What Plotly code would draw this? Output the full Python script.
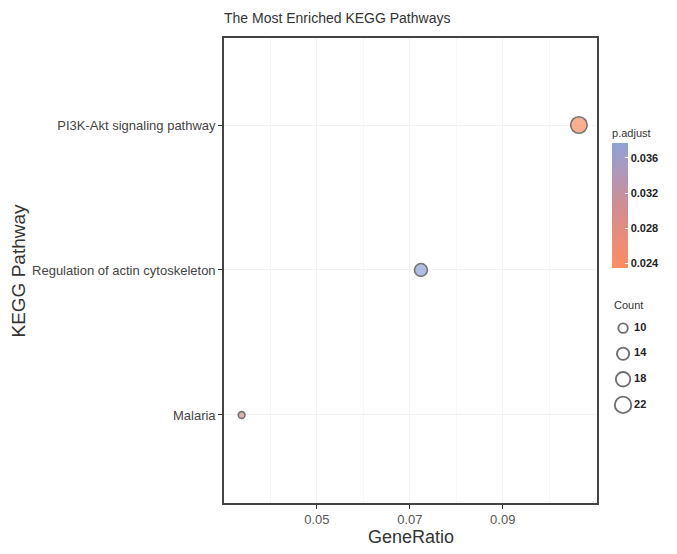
import plotly.graph_objects as go
import numpy as np

pathways = ["Malaria", "Regulation of actin cytoskeleton", "PI3K-Akt signaling pathway"]
gene_ratio = [0.0338, 0.0724, 0.1064]
counts = [7, 15, 22]
p_adjust = [0.0300, 0.0377, 0.0235]

count_breaks = [10, 14, 18, 22]
cbar_ticks = [0.024, 0.028, 0.032, 0.036]
x_ticks = [0.05, 0.07, 0.09]

FONT = "Liberation Sans, Arial, sans-serif"
cscale = [[0.0, "#FC8D62"], [0.25, "#E98C79"], [0.5, "#CF8E92"], [0.75, "#B098B8"], [1.0, "#8EA3D6"]]

W, H = 669, 546  # page body has an 8px default margin

def diam(c):
    return float(np.sqrt(max(-60.0 + 15.0 * c, 20)))

fig = go.Figure()

fig.add_trace(go.Scatter(
    x=gene_ratio, y=pathways, mode="markers",
    marker=dict(
        size=[diam(c) for c in counts], color=p_adjust,
        colorscale=cscale, cmin=min(p_adjust), cmax=max(p_adjust),
        line=dict(color="#3a3a3a", width=1.6),
        colorbar=dict(
            title=dict(text="p.adjust", side="top", font=dict(size=11, color="#333", family=FONT)),
            x=0.876, xanchor="left", xpad=0, y=0.658, yanchor="middle",
            lenmode="pixels", len=162, thickness=16, thicknessmode="pixels",
            tickvals=cbar_ticks, ticktext=[f"<b>{v:.3f}</b>" for v in cbar_ticks],
            ticks="inside", ticklen=3, tickcolor="white",
            tickfont=dict(size=11, color="#222", family=FONT),
            outlinewidth=0,
        ),
    ),
    showlegend=False, hoverinfo="skip",
))

# Count legend
legend_y = list(range(len(count_breaks) - 1, -1, -1))
fig.add_trace(go.Scatter(
    x=[0.23] * len(count_breaks), y=legend_y, mode="markers",
    marker=dict(size=[diam(c) for c in count_breaks], color="white",
                line=dict(color="#333", width=1.9)),
    xaxis="x2", yaxis="y2", showlegend=False, hoverinfo="skip",
))
fig.add_trace(go.Scatter(
    x=[0.46] * len(count_breaks), y=legend_y, mode="text",
    text=[f"<b>{c}</b>" for c in count_breaks], textposition="middle right",
    textfont=dict(size=11, color="#222", family=FONT),
    xaxis="x2", yaxis="y2", showlegend=False, hoverinfo="skip",
))

fig.update_layout(
    width=W, height=H,
    margin=dict(l=216, r=10, t=30, b=51, autoexpand=False),
    paper_bgcolor="white", plot_bgcolor="white",
    font=dict(family=FONT, color="#333"),
    title=dict(text="The Most Enriched KEGG Pathways", x=0.0, xanchor="left", xref="paper",
               y=1 - 10 / H, yanchor="middle", automargin=False,
               font=dict(size=14, color="#333", family=FONT)),
    xaxis=dict(domain=[0, 0.842], range=[0.03, 0.1103], automargin=False,
               tickvals=x_ticks, ticktext=["0.05", "0.07", "0.09"],
               ticks="outside", ticklen=4, tickcolor="#333",
               tickfont=dict(size=13, color="#555", family=FONT),
               showgrid=True, gridcolor="#f2f2f2",
               minor=dict(showgrid=True, gridcolor="#f7f7f7", dtick=0.01, tick0=0.04),
               showline=True, linecolor="#444", linewidth=1.6, mirror=True, zeroline=False),
    yaxis=dict(domain=[0, 1], type="category", categoryorder="array", categoryarray=pathways,
               range=[-0.607, 2.6], automargin=False,
               ticks="outside", ticklen=4, tickcolor="#333",
               tickfont=dict(size=13, color="#444", family=FONT),
               showgrid=True, gridcolor="#f2f2f2",
               showline=True, linecolor="#444", linewidth=1.6, mirror=True, zeroline=False),
    xaxis2=dict(domain=[0.876, 0.984], range=[0, 1], visible=False, anchor="y2"),
    yaxis2=dict(domain=[0.189, 0.398], range=[-0.4, 3.4], visible=False, anchor="x2"),
    annotations=[
        dict(text="KEGG Pathway", textangle=-90, x=(10 - 216) / 443, xref="paper", xanchor="center",
             y=0.5, yref="paper", showarrow=False, font=dict(size=19, color="#333", family=FONT)),
        dict(text="GeneRatio", x=0.421, xref="paper", xanchor="center", y=-34 / 465, yref="paper",
             yanchor="middle", showarrow=False, font=dict(size=18, color="#333", family=FONT)),
        dict(text="Count", x=0.876, xref="paper", xanchor="left", y=(503 - 305) / 465, yref="paper",
             yanchor="middle", showarrow=False, font=dict(size=11, color="#333", family=FONT)),
    ],
)

fig.write_html("out.html")
